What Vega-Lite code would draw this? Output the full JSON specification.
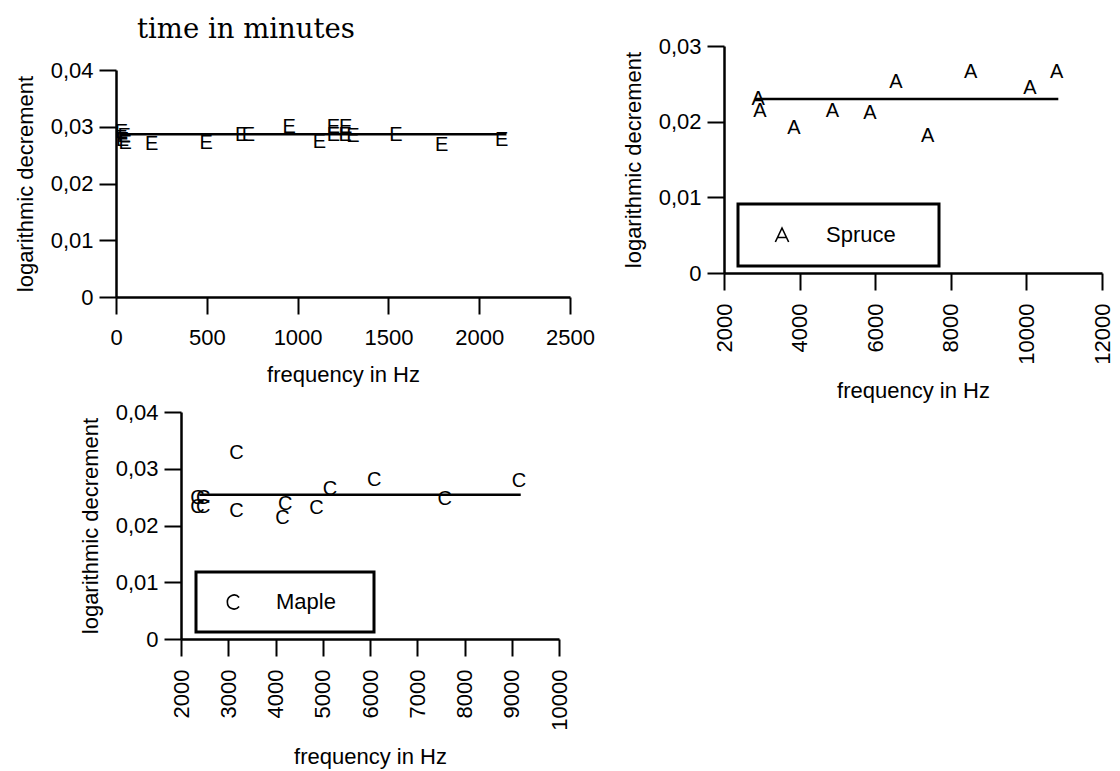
{
  "$schema": "https://vega.github.io/schema/vega-lite/v6.json",
  "background": "white",
  "padding": {"left": 14, "top": 15, "right": 5, "bottom": 5},
  "config": {
    "view": {"stroke": null},
    "font": "Liberation Sans",
    "axis": {
      "domainColor": "black", "domainWidth": 2.5, "tickColor": "black", "tickWidth": 2, "tickSize": 17,
      "labelColor": "black", "labelFont": "Liberation Sans", "labelFontSize": 22, "labelPadding": 6,
      "titleFont": "Liberation Sans", "titleFontSize": 22, "titleFontWeight": "normal", "titleColor": "black",
      "grid": false, "labelOverlap": false, "labelFlush": false
    },
    "axisX": {"labelPadding": 13, "titlePadding": 16},
    "axisY": {"titlePadding": 13},
    "legend": {"strokeWidth": 3}
  },
  "datasets": {
    "dE": [
      {"f": 30, "d": 0.0290}, {"f": 45, "d": 0.0284}, {"f": 35, "d": 0.0277}, {"f": 50, "d": 0.0271},
      {"f": 197, "d": 0.0270}, {"f": 496, "d": 0.0272}, {"f": 692, "d": 0.0286}, {"f": 729, "d": 0.0286},
      {"f": 954, "d": 0.0299}, {"f": 1120, "d": 0.0274}, {"f": 1197, "d": 0.0299}, {"f": 1265, "d": 0.0299},
      {"f": 1197, "d": 0.0285}, {"f": 1262, "d": 0.0285}, {"f": 1305, "d": 0.0284}, {"f": 1542, "d": 0.0286},
      {"f": 1793, "d": 0.0267}, {"f": 2124, "d": 0.0277}
    ],
    "fitE": [{"f": 20, "f2": 2150, "d": 0.0287}],
    "dA": [
      {"f": 2907, "d": 0.0230}, {"f": 2952, "d": 0.0214}, {"f": 3852, "d": 0.0192}, {"f": 4865, "d": 0.0214},
      {"f": 5862, "d": 0.0212}, {"f": 6550, "d": 0.0252}, {"f": 7389, "d": 0.0181}, {"f": 8526, "d": 0.0265},
      {"f": 10095, "d": 0.0245}, {"f": 10802, "d": 0.0265}
    ],
    "fitA": [{"f": 2820, "f2": 10844, "d": 0.0230, "wood": "Spruce"}],
    "dC": [
      {"f": 2350, "d": 0.0248}, {"f": 2470, "d": 0.0248}, {"f": 2350, "d": 0.0233}, {"f": 2470, "d": 0.0233},
      {"f": 3176, "d": 0.0328}, {"f": 3176, "d": 0.0226}, {"f": 4205, "d": 0.0238}, {"f": 4149, "d": 0.0214},
      {"f": 4867, "d": 0.0230}, {"f": 5151, "d": 0.0264}, {"f": 6088, "d": 0.0281}, {"f": 7582, "d": 0.0246},
      {"f": 9154, "d": 0.0279}
    ],
    "fitC": [{"f": 2387, "f2": 9190, "d": 0.0254, "wood": "Maple"}]
  },
  "resolve": {"scale": {"color": "independent"}, "legend": {"color": "independent"}},
  "spacing": -1,
  "vconcat": [
    {
      "spacing": 27,
      "resolve": {"scale": {"color": "independent"}, "legend": {"color": "independent"}},
      "hconcat": [
        {
          "title": {"text": "time in minutes", "font": "DejaVu Serif", "fontSize": 27.5, "fontWeight": "normal", "color": "black", "anchor": "start", "frame": "group", "dx": 21, "dy": 28, "offset": 9, "baseline": "alphabetic"},
          "spacing": 0,
          "vconcat": [
            {"width": 1, "height": 13, "data": {"values": []}, "mark": "point"},
            {
              "width": 454, "height": 227,
              "encoding": {
                "x": {"field": "f", "type": "quantitative", "scale": {"domain": [0, 2500], "nice": false, "zero": false},
                      "axis": {"values": [0, 500, 1000, 1500, 2000, 2500], "format": "d", "title": "frequency in Hz"}},
                "y": {"field": "d", "type": "quantitative", "scale": {"domain": [0, 0.04], "nice": false},
                      "axis": {"values": [0, 0.01, 0.02, 0.03, 0.04], "labelExpr": "datum.value == 0 ? '0' : replace(format(datum.value, '.2f'), '.', ',')", "title": "logarithmic decrement"}}
              },
              "layer": [
                {"data": {"name": "fitE"}, "mark": {"type": "rule", "color": "black", "strokeWidth": 2.5}, "encoding": {"x2": {"field": "f2"}}},
                {"data": {"name": "dE"}, "mark": {"type": "text", "font": "Liberation Sans", "fontSize": 20, "color": "black"}, "encoding": {"text": {"value": "E"}}}
              ]
            }
          ]
        },
        {
          "width": 378, "height": 227,
          "encoding": {
            "x": {"field": "f", "type": "quantitative", "scale": {"domain": [2000, 12000], "nice": false, "zero": false},
                  "axis": {"values": [2000, 4000, 6000, 8000, 10000, 12000], "format": "d", "labelAngle": -90, "title": "frequency in Hz"}},
            "y": {"field": "d", "type": "quantitative", "scale": {"domain": [0, 0.03], "nice": false},
                  "axis": {"values": [0, 0.01, 0.02, 0.03], "labelExpr": "datum.value == 0 ? '0' : replace(format(datum.value, '.2f'), '.', ',')", "title": "logarithmic decrement"}}
          },
          "layer": [
            {"data": {"name": "fitA"}, "mark": {"type": "rule", "strokeWidth": 2.5},
             "encoding": {"x2": {"field": "f2"},
                          "color": {"field": "wood", "type": "nominal", "scale": {"range": ["black"]},
                                    "legend": {"title": null, "orient": "none", "legendX": 14, "legendY": 158,
                                               "strokeColor": "black", "padding": 20,
                                               "symbolType": "M-0.95,1L0,-1L0.95,1M-0.62,0.35L0.62,0.35",
                                               "symbolSize": 196, "symbolStrokeColor": "black", "symbolFillColor": "transparent", "symbolStrokeWidth": 1.6,
                                               "symbolOffset": 13, "labelOffset": 33,
                                               "labelFont": "Liberation Sans", "labelFontSize": 22, "labelColor": "black",
                                               "labelExpr": "datum.label + '\u00a0\u00a0\u00a0\u2009\u200b'"}}}},
            {"data": {"name": "dA"}, "mark": {"type": "text", "font": "Liberation Sans", "fontSize": 20, "color": "black"}, "encoding": {"text": {"value": "A"}}}
          ]
        }
      ]
    },
    {
      "spacing": -38,
      "resolve": {"scale": {"color": "independent"}, "legend": {"color": "independent"}},
      "hconcat": [
        {"width": 1, "height": 1, "data": {"values": []}, "mark": "point"},
        {
          "width": 378, "height": 227,
          "encoding": {
            "x": {"field": "f", "type": "quantitative", "scale": {"domain": [2000, 10000], "nice": false, "zero": false},
                  "axis": {"values": [2000, 3000, 4000, 5000, 6000, 7000, 8000, 9000, 10000], "format": "d", "labelAngle": -90, "title": "frequency in Hz"}},
            "y": {"field": "d", "type": "quantitative", "scale": {"domain": [0, 0.04], "nice": false},
                  "axis": {"values": [0, 0.01, 0.02, 0.03, 0.04], "labelExpr": "datum.value == 0 ? '0' : replace(format(datum.value, '.2f'), '.', ',')", "title": "logarithmic decrement"}}
          },
          "layer": [
            {"data": {"name": "fitC"}, "mark": {"type": "rule", "strokeWidth": 2.5},
             "encoding": {"x2": {"field": "f2"},
                          "color": {"field": "wood", "type": "nominal", "scale": {"range": ["black"]},
                                    "legend": {"title": null, "orient": "none", "legendX": 15, "legendY": 160,
                                               "strokeColor": "black", "padding": 19,
                                               "symbolType": "M0.73,-0.64A0.95,1 0 1 0 0.73,0.64",
                                               "symbolSize": 196, "symbolStrokeColor": "black", "symbolFillColor": "transparent", "symbolStrokeWidth": 1.6,
                                               "symbolOffset": 8, "labelOffset": 31,
                                               "labelFont": "Liberation Sans", "labelFontSize": 22, "labelColor": "black",
                                               "labelExpr": "datum.label + '\u00a0\u00a0\u00a0\u200b'"}}}},
            {"data": {"name": "dC"}, "mark": {"type": "text", "font": "Liberation Sans", "fontSize": 20, "color": "black"}, "encoding": {"text": {"value": "C"}}}
          ]
        }
      ]
    }
  ]
}
